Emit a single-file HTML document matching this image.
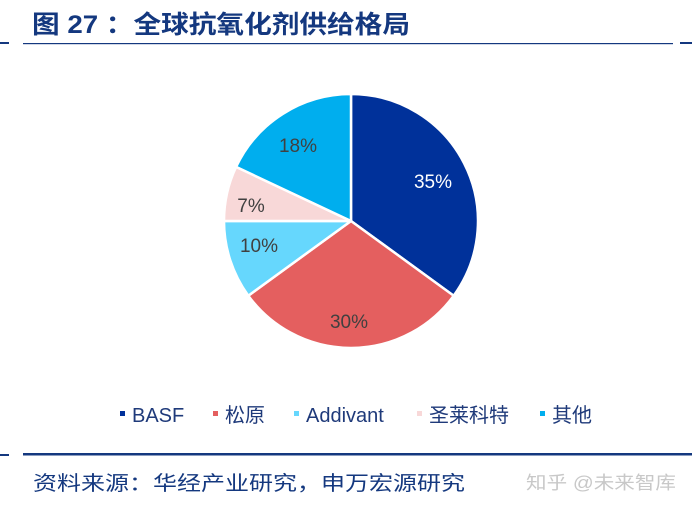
<!DOCTYPE html>
<html><head><meta charset="utf-8"><style>
body{margin:0;width:692px;height:508px;background:#fff;overflow:hidden;font-family:"Liberation Sans","Noto Sans CJK SC",sans-serif;}
</style></head><body>
<svg width="692" height="508" xmlns="http://www.w3.org/2000/svg" style="position:absolute;left:0;top:0">
<text x="32" y="33" font-size="25" font-weight="bold" fill="#14387f" textLength="378" lengthAdjust="spacingAndGlyphs" font-family="Liberation Sans,Noto Sans CJK SC,sans-serif">图 27 ：全球抗氧化剂供给格局</text>
<rect x="0" y="42" width="9" height="2" fill="#14387f"/>
<rect x="23" y="43" width="650" height="1.2" fill="#14387f"/>
<rect x="680" y="42" width="12" height="2" fill="#14387f"/>
<g stroke="#fff" stroke-width="2.5" stroke-linejoin="round">
<path d="M351,221 L351,94 A127,127 0 0 1 453.7,295.7 Z" fill="#00319a"/>
<path d="M351,221 L453.7,295.7 A127,127 0 0 1 248.3,295.7 Z" fill="#e45f5f"/>
<path d="M351,221 L248.3,295.7 A127,127 0 0 1 224,221 Z" fill="#66d7fd"/>
<path d="M351,221 L224,221 A127,127 0 0 1 236.1,166.9 Z" fill="#f8d8d8"/>
<path d="M351,221 L236.1,166.9 A127,127 0 0 1 351,94 Z" fill="#00aeee"/>
</g>
<g font-size="19" text-anchor="middle" font-family="Liberation Sans,sans-serif">
<text x="433" y="188" fill="#fff">35%</text>
<text x="349" y="328" fill="#404040">30%</text>
<text x="259" y="252" fill="#404040">10%</text>
<text x="251" y="212" fill="#404040">7%</text>
<text x="298" y="152" fill="#404040">18%</text>
</g>
<g font-size="20" fill="#1f3a7a" font-family="Liberation Sans,Noto Sans CJK SC,sans-serif">
<rect x="120" y="411" width="5" height="5" fill="#00319a"/><text x="132" y="422">BASF</text>
<rect x="213" y="411" width="5" height="5" fill="#e45f5f"/><text x="225" y="422">松原</text>
<rect x="294" y="411" width="5" height="5" fill="#66d7fd"/><text x="306" y="422">Addivant</text>
<rect x="417" y="411" width="5" height="5" fill="#f8d8d8"/><text x="429" y="422">圣莱科特</text>
<rect x="540" y="411" width="5" height="5" fill="#00aeee"/><text x="552" y="422">其他</text>
</g>
<rect x="0" y="454" width="9" height="2" fill="#14387f"/>
<rect x="23" y="453" width="669" height="2.5" fill="#14387f"/>
<text x="33" y="490" font-size="20" fill="#14387f" textLength="432" lengthAdjust="spacingAndGlyphs" font-family="Liberation Sans,Noto Sans CJK SC,sans-serif">资料来源：华经产业研究，申万宏源研究</text>
<text x="526" y="489" font-size="18" fill="#c8c8c8" textLength="150" lengthAdjust="spacingAndGlyphs" font-family="Liberation Sans,Noto Sans CJK SC,sans-serif">知乎 @未来智库</text>
</svg>
</body></html>
